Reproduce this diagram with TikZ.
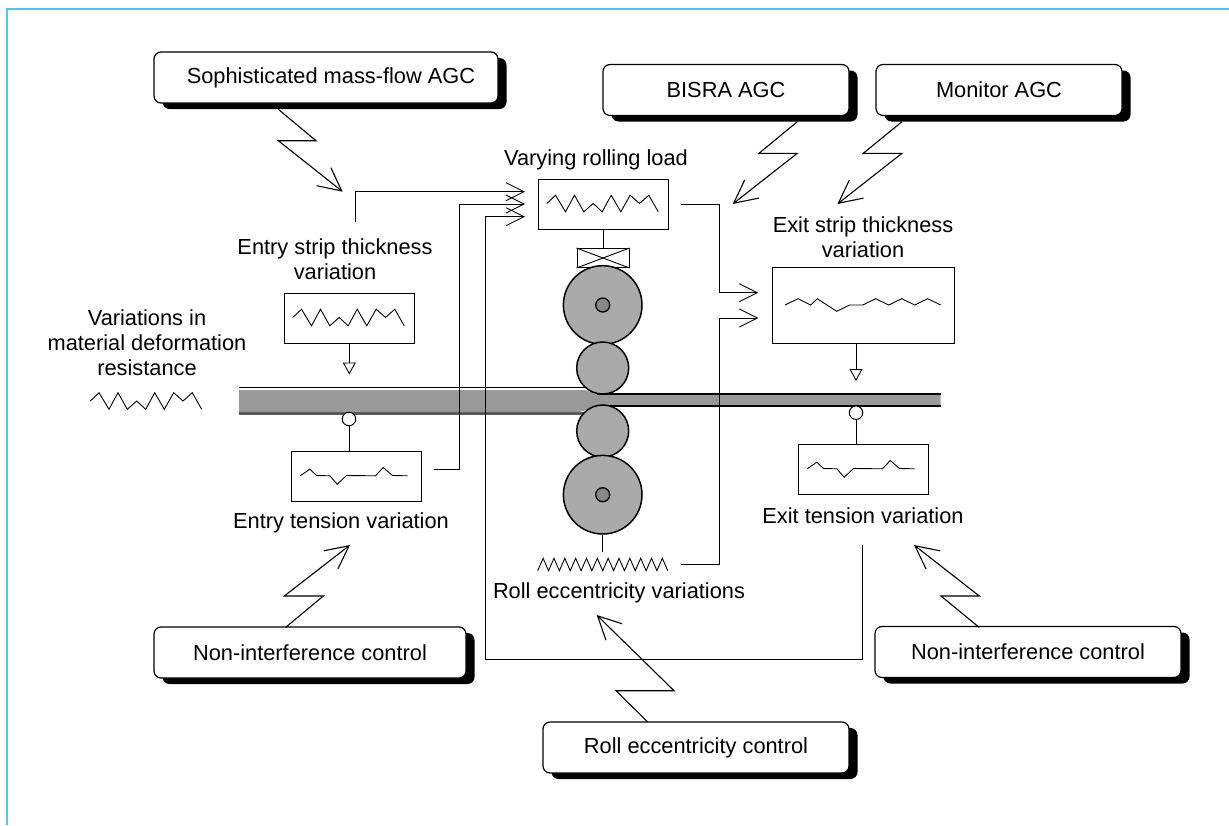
\documentclass[tikz,border=0pt]{standalone}
\usepackage{fontspec}
\setmainfont{Liberation Sans}
\usetikzlibrary{arrows.meta,shadows}
\definecolor{framecyan}{HTML}{55C5F0}
\definecolor{stripgray}{HTML}{999999}
\definecolor{rollgray}{HTML}{AAAAAA}
\definecolor{hubgray}{HTML}{888888}
\newcommand{\loadwave}[1]{\draw[wave line,shift={(#1)}] (9.3,25) -- (18,16.7) -- (28,33.3) -- (37,16.7) -- (46.3,33.3) -- (55.7,25) -- (64.7,33.3) -- (73.7,16.7) -- (83.3,33.3) -- (92.7,16.7) -- (102,25) -- (111.3,16.7) -- (120.7,33.3);}
\newcommand{\tensionwave}[1]{\draw[wave line,shift={(#1)}] (9.7,25.3) -- (19.3,18.7) -- (26,25) -- (39.3,25.3) -- (46.7,33.7) -- (56,25) -- (85,25.3) -- (92.7,17) -- (102,25) -- (117,25.3);}
\begin{document}
\begin{tikzpicture}[x=1pt,y=-1pt,line width=0.9pt,
  call node/.style={draw,fill=white,rounded corners=7pt,line width=1.2pt,inner sep=0pt,minimum height=51pt,font=\fontsize{21.8}{25}\selectfont,
    drop shadow={shadow xshift=8.5pt,shadow yshift=-6pt,opacity=1,fill=black}},
  wave box/.style={draw,fill=white,inner sep=0pt,minimum width=130pt,minimum height=50pt,line width=1pt},
  main label/.style={inner sep=0pt,align=center,font=\fontsize{21.8}{25}\selectfont},
  roll/.style={circle,draw,fill=rollgray,inner sep=0pt,line width=1.5pt},
  hub/.style={circle,draw,fill=hubgray,inner sep=0pt,minimum size=14pt,line width=1.3pt},
  sensor/.style={circle,draw,fill=white,inner sep=0pt,minimum size=13.5pt,line width=1pt},
  wave line/.style={line width=0.9pt,line join=miter},
  signal/.style={-{Straight Barb[length=18pt,width=18pt]}},
  bolt/.style={line width=1.1pt,-{Straight Barb[length=23pt,width=23pt]}},
  feed/.style={-{Triangle[open,length=12pt,width=13pt]}}]
  \useasboundingbox (0,0) rectangle (1229,825);
  \draw[framecyan,line width=1.4pt] (7,825) -- (7,9) -- (1229,9);

  \fill[stripgray] (239,390) -- (585,390) -- (597,394) -- (940.5,394) -- (940.5,406) -- (597,406) -- (580,412) -- (239,412) -- cycle;
  \draw (239,387) -- (590,387);
  \fill[black!65] (239,412) rectangle (590,415);
  \draw[line width=1.4pt] (597,394) -- (940.5,394);
  \draw[line width=1.4pt] (597,406) -- (940.5,406);

  \node[call node,minimum width=344pt] (massflow) at (326,77.5) {\hspace*{10pt}Sophisticated mass-flow AGC};
  \node[call node,minimum width=246pt] (bisra) at (726,90) {BISRA AGC};
  \node[call node,minimum width=246pt] (monitor) at (999,90) {Monitor AGC};
  \node[call node,minimum width=312pt] (entrycontrol) at (310,652.5) {Non-interference control};
  \node[call node,minimum width=306pt] (exitcontrol) at (1028,652) {Non-interference control};
  \node[call node,minimum width=306pt] (ecccontrol) at (696,747.5) {Roll eccentricity control};

  \node[wave box] (loadbox) at (603,204) {};
  \node[wave box] (entrystrip) at (349,318) {};
  \node[wave box,minimum width=182pt,minimum height=76pt] (exitstrip) at (863,305) {};
  \node[wave box] (entrytension) at (356,476) {};
  \node[wave box] (exittension) at (863,469) {};
  \loadwave{loadbox.north west}
  \loadwave{entrystrip.north west}
  \tensionwave{entrytension.north west}
  \tensionwave{exittension.north west}
  \draw[wave line] (785,305) -- (798,298.7) -- (810.7,305) -- (817.3,298.7) -- (836.7,311.3) -- (849.7,305) -- (862.7,305) -- (875.7,298.7) -- (888.7,305) -- (901.7,298.7) -- (914.7,305) -- (927.7,298.7) -- (940.7,305);

  \coordinate (materialwave) at (81,376);
  \loadwave{materialwave}
  \coordinate (eccwave) at (537.7,570.7);
  \draw[wave line] (eccwave) foreach \peak in {1,...,12} { -- ++(5.42,-12.4) -- ++(5.42,12.4) };

  \node[main label] (loadlabel) at (596,160) {Varying rolling load};
  \node[main label] (entrystriplabel) at (335,259) {Entry strip thickness\\variation};
  \node[main label] (exitstriplabel) at (863,237) {Exit strip thickness\\variation};
  \node[main label] (materiallabel) at (147,343) {Variations in\\material deformation\\resistance};
  \node[main label] (entrytensionlabel) at (341,523) {Entry tension variation};
  \node[main label] (exittensionlabel) at (863,516) {Exit tension variation};
  \node[main label] (ecclabel) at (619,593) {Roll eccentricity variations};

  \node[draw,fill=white,inner sep=0pt,minimum width=52pt,minimum height=19pt] (chock) at (603,258) {};
  \draw (chock.north west) -- (chock.south east);
  \draw (chock.south west) -- (chock.north east);
  \draw (loadbox.south) -- (chock.north);
  \node[roll,minimum size=78.6pt] (upperbackup) at (602.7,305) {};
  \node[roll,minimum size=52pt] (upperwork) at (602.7,368) {};
  \node[roll,minimum size=52pt] (lowerwork) at (602.7,431) {};
  \node[roll,minimum size=78.6pt] (lowerbackup) at (602.7,494.7) {};
  \node[hub] (upperhub) at (upperbackup) {};
  \node[hub] (lowerhub) at (lowerbackup) {};
  \coordinate (stemend) at (602.7,552);
  \draw (lowerbackup.south) -- (stemend);

  \node[sensor] (entrysensor) at (349,419) {};
  \node[sensor] (exitsensor) at (856,412.7) {};
  \draw (entrysensor) -- (entrysensor |- entrytension.north);
  \draw (exitsensor) -- (exitsensor |- exittension.north);
  \coordinate (entryfeed) at (349.3,374.5);
  \coordinate (exitfeed) at (856,381);
  \draw[feed] (entryfeed |- entrystrip.south) -- (entryfeed);
  \draw[feed] (exitfeed |- exitstrip.south) -- (exitfeed);

  \coordinate (stripout) at (355.7,222);
  \coordinate (tensionout) at (434,469.3);
  \coordinate (exittensionout) at (862.7,545);
  \coordinate (loadinA) at (525,191.7);
  \coordinate (loadinB) at (525,204);
  \coordinate (loadinC) at (525,216.7);
  \coordinate (loadout) at (681,204);
  \coordinate (eccout) at (680.7,564.7);
  \coordinate (exitinA) at (758.3,292.7);
  \coordinate (exitinB) at (758.3,318);
  \draw[signal] (stripout) |- (loadinA);
  \draw[signal] (tensionout) -| (459.7,204) -- (loadinB);
  \draw[signal] (exittensionout) |- (485.7,659.3) -- (485.7,216.7) -- (loadinC);
  \draw[signal] (loadout) -| (719.5,292.7) -- (exitinA);
  \draw[signal] (eccout) -| (719.5,318) -- (exitinB);

  \coordinate (massstart) at (278.3,109.3);
  \coordinate (masstip) at (342.7,191.7);
  \coordinate (bisrastart) at (797.3,121.7);
  \coordinate (bisratip) at (732.7,204);
  \coordinate (monitorstart) at (902,121.7);
  \coordinate (monitortip) at (837.4,204);
  \coordinate (entrystart) at (285.7,627.3);
  \coordinate (entrytip) at (350,545);
  \coordinate (exitstart) at (979,627.3);
  \coordinate (exittip) at (914,545);
  \coordinate (eccstart) at (647.7,722);
  \coordinate (ecctip) at (596.7,615);
  \draw[bolt] (massstart) -- (316,140.7) -- (278.3,140.7) -- (masstip);
  \draw[bolt] (bisrastart) -- (759,153.3) -- (797.3,153.3) -- (bisratip);
  \draw[bolt] (monitorstart) -- (863.3,153.3) -- (902,153.3) -- (monitortip);
  \draw[bolt] (entrystart) -- (323.3,596) -- (284.3,596) -- (entrytip);
  \draw[bolt] (exitstart) -- (941,596) -- (979.3,596) -- (exittip);
  \draw[bolt] (eccstart) -- (616,690.7) -- (674,690.7) -- (ecctip);
\end{tikzpicture}
\end{document}
